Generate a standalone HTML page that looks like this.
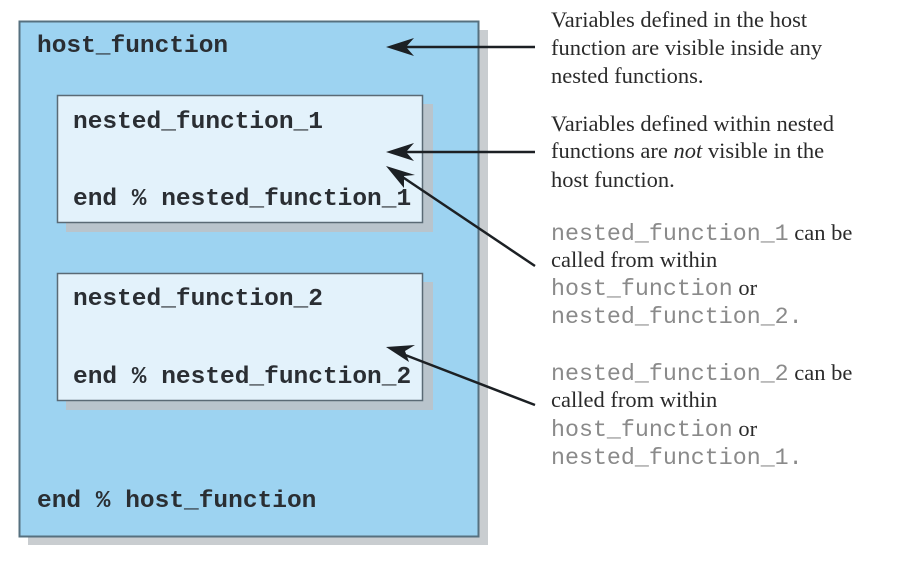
<!DOCTYPE html>
<html><head><meta charset="utf-8"><style>
html,body{margin:0;padding:0;background:#fff;}
</style></head><body>
<svg width="924" height="559" viewBox="0 0 924 559" xmlns="http://www.w3.org/2000/svg">
<rect x="0" y="0" width="924" height="559" fill="#fff"/>
<rect x="28" y="30" width="460" height="515" fill="#c9cdd0"/>
<rect x="19.5" y="21.5" width="459" height="515" fill="#9dd3f1" stroke="#56707f" stroke-width="2"/>
<rect x="66" y="104" width="367" height="128" fill="#b9c4cc"/>
<rect x="57.5" y="95.5" width="365" height="127" fill="#e3f2fb" stroke="#5a6a75" stroke-width="1.5"/>
<rect x="66" y="282" width="367" height="128" fill="#b9c4cc"/>
<rect x="57.5" y="273.5" width="365" height="127" fill="#e3f2fb" stroke="#5a6a75" stroke-width="1.5"/>
<g font-family="Liberation Mono, monospace" font-weight="bold" font-size="24.5" fill="#2a2e33">
<text x="37" y="52">host_function</text>
<text x="73" y="128">nested_function_1</text>
<text x="73" y="205">end % nested_function_1</text>
<text x="73" y="305">nested_function_2</text>
<text x="73" y="383">end % nested_function_2</text>
<text x="37" y="507">end % host_function</text>
</g>
<g stroke="#1c2024" stroke-width="2.5" fill="none">
<line x1="535" y1="47" x2="400" y2="47"/>
<line x1="535" y1="152" x2="400" y2="152"/>
<line x1="535" y1="266" x2="398" y2="174"/>
<line x1="535" y1="405" x2="400" y2="353"/>
</g>
<g fill="#1c2024">
<path d="M386,47 L414,38 L406,47 L414,56 Z"/>
<path d="M386,152 L414,143 L406,152 L414,161 Z"/>
<path d="M386,166 L415,175 L404,176 L404,188 Z"/>
<path d="M386,347 L415,345 L405,351 L409,362 Z"/>
</g>
<g font-family="Liberation Serif, serif" font-size="22.5" fill="#2a2a2a">
<text x="551" y="27">Variables defined in the host</text>
<text x="551" y="55">function are visible inside any</text>
<text x="551" y="83">nested functions.</text>
<text x="551" y="131">Variables defined within nested</text>
<text x="551" y="158">functions are <tspan font-style="italic">not</tspan> visible in the</text>
<text x="551" y="187">host function.</text>
<text x="551" y="240"><tspan font-family="Liberation Mono, monospace" font-size="23.3" fill="#8a8a8a">nested_function_1</tspan> can be</text>
<text x="551" y="267">called from within</text>
<text x="551" y="295"><tspan font-family="Liberation Mono, monospace" font-size="23.3" fill="#8a8a8a">host_function</tspan> or</text>
<text x="551" y="323"><tspan font-family="Liberation Mono, monospace" font-size="23.3" fill="#8a8a8a">nested_function_2.</tspan></text>
<text x="551" y="380"><tspan font-family="Liberation Mono, monospace" font-size="23.3" fill="#8a8a8a">nested_function_2</tspan> can be</text>
<text x="551" y="407">called from within</text>
<text x="551" y="436"><tspan font-family="Liberation Mono, monospace" font-size="23.3" fill="#8a8a8a">host_function</tspan> or</text>
<text x="551" y="464"><tspan font-family="Liberation Mono, monospace" font-size="23.3" fill="#8a8a8a">nested_function_1.</tspan></text>
</g>
</svg>
</body></html>
